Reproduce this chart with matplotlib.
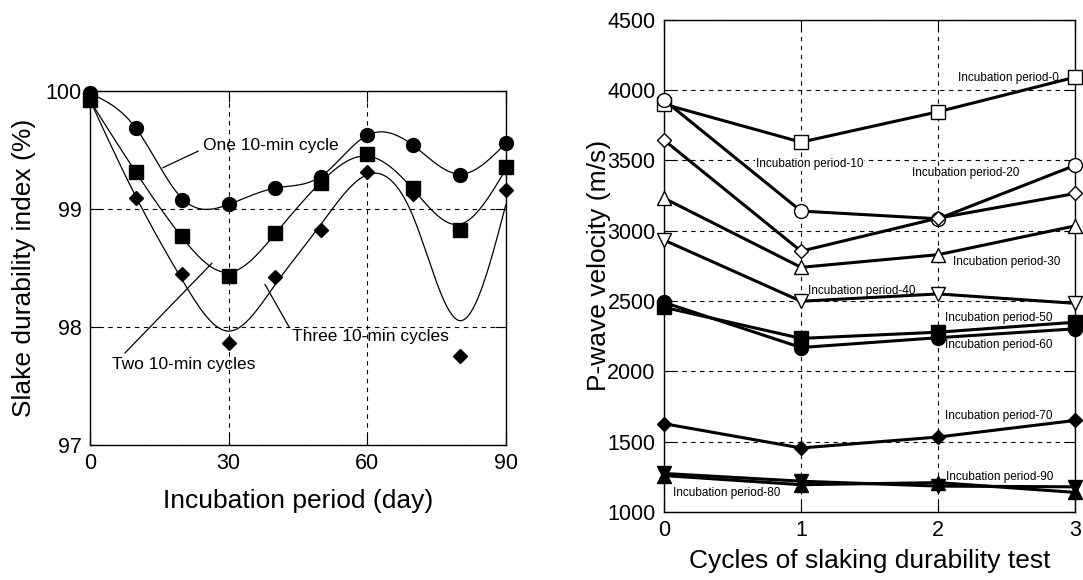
import numpy as np
from matplotlib import pyplot as plt

plt.rcParams['font.family'] = ['Liberation Sans', 'DejaVu Sans']

# left chart: slake durability index vs incubation period
days = [0, 10, 20, 30, 40, 50, 60, 70, 80, 90]
one_cycle = [99.98, 99.69, 99.08, 99.04, 99.18, 99.27, 99.63, 99.54, 99.29, 99.56]
two_cycles = [99.92, 99.31, 98.77, 98.43, 98.80, 99.22, 99.47, 99.18, 98.82, 99.36]
three_cycles = [99.93, 99.09, 98.45, 97.86, 98.42, 98.82, 99.31, 99.13, 97.75, 99.16]

# right chart: P-wave velocity vs cycles of slaking test
cycles = [0, 1, 2, 3]
periods = [0, 10, 20, 30, 40, 50, 60, 70, 80, 90]
vp = {
    0: [3900, 3630, 3846, 4092],
    10: [3930, 3140, 3085, 3466],
    20: [3645, 2855, 3090, 3265],
    30: [3232, 2740, 2830, 3035],
    40: [2934, 2499, 2551, 2484],
    50: [2456, 2235, 2279, 2350],
    60: [2491, 2170, 2240, 2303],
    70: [1629, 1456, 1534, 1652],
    80: [1260, 1195, 1210, 1140],
    90: [1275, 1220, 1185, 1180],
}
markers = {0: ('s', 'white'), 10: ('o', 'white'), 20: ('D', 'white'), 30: ('^', 'white'),
           40: ('v', 'white'), 50: ('s', 'black'), 60: ('o', 'black'), 70: ('D', 'black'),
           80: ('^', 'black'), 90: ('v', 'black')}
# label anchor (x, y, ha) in data units
label_pos = {0: (2.88, 4085, 'right'), 10: (0.67, 3475, 'left'), 20: (1.81, 3411, 'left'),
             30: (2.11, 2780, 'left'), 40: (1.05, 2574, 'left'), 50: (2.05, 2383, 'left'),
             60: (2.05, 2185, 'left'), 70: (2.05, 1681, 'left'), 80: (0.07, 1135, 'left'),
             90: (2.06, 1250, 'left')}


def smooth(x, y, lam):
    # discrete cubic smoothing spline on a fine grid
    xs = np.linspace(0, 90, 361)
    n = len(xs)
    w = np.zeros(n)
    z = np.zeros(n)
    idx = np.searchsorted(xs, x)
    w[idx] = 1
    z[idx] = y
    D = np.diff(np.eye(n), 2, axis=0)
    f = np.linalg.solve(np.diag(w) + lam * D.T @ D, w * z)
    return xs, f


fig = plt.figure(figsize=(10.83, 5.8), dpi=100)
axL = fig.add_axes([0.083, 0.233, 0.384, 0.610])
axR = fig.add_axes([0.613, 0.117, 0.380, 0.849])

grid_kw = dict(color='black', lw=0.8, dashes=(4, 4))

# ---- left
for vals, mk, ms, lam in [(one_cycle, 'o', 10, 64 * 3), (two_cycles, 's', 10.5, 64 * 20),
                          (three_cycles, 'D', 7, 64 * 40)]:
    xs, f = smooth(days, vals, lam)
    axL.plot(xs, f, color='black', lw=0.9)
    axL.plot(days, vals, mk, color='black', ms=ms, clip_on=False, zorder=5)

axL.set_xlim(0, 90)
axL.set_ylim(97, 100)
axL.set_xticks([0, 30, 60, 90])
axL.set_yticks([97, 98, 99, 100])
axL.grid(True, **grid_kw)
axL.tick_params(direction='in', length=8, labelsize=15.5, top=True, right=True, pad=6)
axL.set_xlabel('Incubation period (day)', fontsize=19)
axL.set_ylabel('Slake durability index (%)', fontsize=19)
axL.yaxis.set_label_coords(-0.13, 0.5)
axL.xaxis.set_label_coords(0.5, -0.125)

# callouts: text position, then leader line start/end
callouts = [('One 10-min cycle', (24.4, 99.54), (23.4, 99.49), (15.8, 99.35)),
            ('Two 10-min cycles', (4.8, 97.68), (7.6, 97.78), (26.4, 98.54)),
            ('Three 10-min cycles', (43.7, 97.92), (43.1, 98.0), (37.9, 98.36))]
for txt, tpos, p0, p1 in callouts:
    axL.text(tpos[0], tpos[1], txt, fontsize=12.5, va='center', ha='left')
    axL.plot([p0[0], p1[0]], [p0[1], p1[1]], color='black', lw=0.9)

# ---- right
for p in periods:
    mk, fc = markers[p]
    ms = 7.5 if mk == 'D' else 10
    axR.plot(cycles, vp[p], color='black', lw=2.2, marker=mk, ms=ms, mfc=fc, mec='black',
             mew=1.0, clip_on=False, zorder=4)
    lx, ly, ha = label_pos[p]
    axR.text(lx, ly, 'Incubation period-%d' % p, fontsize=8.5, ha=ha, va='center', zorder=3,
             bbox=dict(facecolor='white', edgecolor='none', pad=0.5))

axR.set_xlim(0, 3)
axR.set_ylim(1000, 4500)
axR.set_xticks(cycles)
axR.set_yticks(np.arange(1000, 4501, 500))
axR.grid(True, **grid_kw)
axR.tick_params(direction='in', length=8, labelsize=15.5, top=True, right=True, pad=6)
axR.set_xlabel('Cycles of slaking durability test', fontsize=19)
axR.set_ylabel('P-wave velocity (m/s)', fontsize=19)
axR.yaxis.set_label_coords(-0.129, 0.5)
axR.xaxis.set_label_coords(0.5, -0.075)

for ax in (axL, axR):
    for s in ax.spines.values():
        s.set_linewidth(1.0)
    ax.set_axisbelow(True)

fig.savefig('out.png', dpi=100)
